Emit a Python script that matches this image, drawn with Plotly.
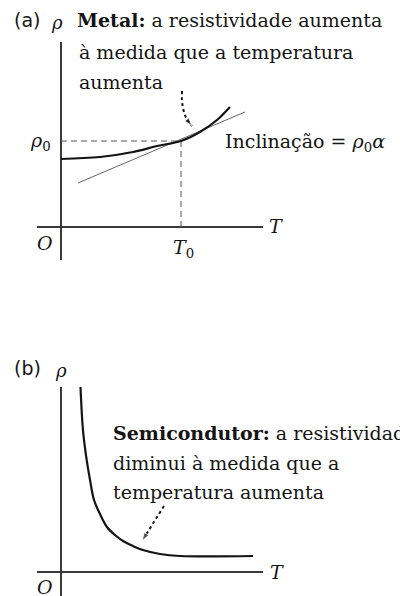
import plotly.graph_objects as go

# ---------------- data ----------------
# (a) metal: resistivity vs temperature (T0 = 1, rho0 = 1)
T0 = 1.0
RHO0 = 1.0
metal_T = [0.0, 0.325, 0.6, 0.8, 1.0, 1.158, 1.3, 1.408]
metal_rho = [0.791, 0.814, 0.872, 0.942, 1.0, 1.105, 1.244, 1.395]

# tangent at (T0, rho0), slope rho0*alpha
tangent_T = [0.142, 1.533]
tangent_rho = [0.512, 1.337]

# curved dotted pointer towards the tangent point
arrow_a_T = [1.008, 1.008, 1.017, 1.033, 1.058, 1.092]
arrow_a_rho = [1.581, 1.477, 1.384, 1.302, 1.233, 1.174]

# (b) semiconductor: resistivity vs temperature
semi_T = [0.1625, 0.183, 0.208, 0.242, 0.275, 0.325, 0.383, 0.45, 0.517,
          0.6, 0.683, 0.825, 0.992, 1.6]
semi_rho = [2.151, 1.651, 1.36, 1.07, 0.837, 0.674, 0.523, 0.43, 0.36,
            0.302, 0.256, 0.209, 0.186, 0.186]

arrow_b_T = [0.858, 0.675]
arrow_b_rho = [0.767, 0.36]

# ---------------- styling ----------------
W, H = 400, 596
INK = "#141414"
AXIS = "#3a3a3a"
SERIF = "DejaVu Serif"
SANS = "DejaVu Sans"
TXT = 19


def px(x):
    return x / W


def py(y):
    return 1 - y / H


fig = go.Figure()

# panel (a)
fig.add_trace(go.Scatter(x=[0, T0], y=[RHO0, RHO0], mode="lines",
                         line=dict(color="#555", width=1, dash="6px,4px"),
                         xaxis="x", yaxis="y", hoverinfo="skip"))
fig.add_trace(go.Scatter(x=[T0, T0], y=[RHO0, 0], mode="lines",
                         line=dict(color="#555", width=1, dash="6px,4px"),
                         xaxis="x", yaxis="y", hoverinfo="skip"))
fig.add_trace(go.Scatter(x=tangent_T, y=tangent_rho, mode="lines",
                         line=dict(color="#666", width=1),
                         xaxis="x", yaxis="y", hoverinfo="skip"))
fig.add_trace(go.Scatter(x=metal_T, y=metal_rho, mode="lines",
                         line=dict(color=INK, width=2.2, shape="spline"),
                         xaxis="x", yaxis="y"))
fig.add_trace(go.Scatter(x=arrow_a_T, y=arrow_a_rho, mode="lines+markers",
                         line=dict(color=INK, width=2, dash="dot", shape="spline"),
                         marker=dict(symbol="arrow", angleref="previous",
                                     size=[0] * (len(arrow_a_T) - 1) + [9],
                                     color=INK),
                         xaxis="x", yaxis="y", hoverinfo="skip"))

# panel (b)
fig.add_trace(go.Scatter(x=semi_T, y=semi_rho, mode="lines",
                         line=dict(color=INK, width=2.2, shape="spline"),
                         xaxis="x2", yaxis="y2"))
fig.add_trace(go.Scatter(x=arrow_b_T, y=arrow_b_rho, mode="lines+markers",
                         line=dict(color=INK, width=2, dash="dot"),
                         marker=dict(symbol="arrow", angleref="previous",
                                     size=[0, 9], color=INK),
                         xaxis="x2", yaxis="y2", hoverinfo="skip"))

axis_common = dict(showgrid=False, showticklabels=False, ticks="",
                   showline=False, zeroline=True, zerolinecolor=AXIS,
                   zerolinewidth=1.6, fixedrange=True)

fig.update_layout(
    width=W, height=H, autosize=False,
    margin=dict(l=0, r=0, t=0, b=0),
    paper_bgcolor="white", plot_bgcolor="white",
    showlegend=False,
    xaxis=dict(domain=[37 / W, 263 / W], range=[-0.2, 1.6833], **axis_common),
    yaxis=dict(domain=[py(260), py(42)], range=[-0.3837, 2.1512], **axis_common),
    xaxis2=dict(domain=[37 / W, 263 / W], range=[-0.2, 1.6833], **axis_common),
    yaxis2=dict(domain=[0, py(387)], range=[-0.279, 2.151], **axis_common),
)

ann = []


def text(x, y, s, size=TXT, family=SERIF, xanchor="left", color=INK, **kw):
    ann.append(dict(x=px(x), y=py(y), xref="paper", yref="paper", text=s,
                    showarrow=False, xanchor=xanchor, yanchor="middle",
                    font=dict(family=family, size=size, color=color), **kw))


# panel (a) labels
text(27, 20, "(a)", size=19, family=SANS, xanchor="center")
text(57, 22, "<i>ρ</i>", size=18, xanchor="center")
text(75, 20, "<b>Metal:</b> a resistividade aumenta")
text(77, 52, "à medida que a temperatura")
text(77, 82, "aumenta")
text(223, 142, "Inclinação = <i>ρ</i><sub>0</sub><i>α</i>")
text(40, 141, "<i>ρ</i><sub>0</sub>", size=19, xanchor="center")
text(183, 248, "<i>T</i><sub>0</sub>", size=19, xanchor="center")
text(45, 243, "<i>O</i>", size=19, xanchor="center")
text(276, 226, "<i>T</i>", size=19, xanchor="center")

# panel (b) labels
text(27, 368, "(b)", size=19, family=SANS, xanchor="center")
text(61, 370, "<i>ρ</i>", size=18, xanchor="center")
text(111, 433, "<b>Semicondutor:</b> a resistividade")
text(111, 463, "diminui à medida que a")
text(111, 492, "temperatura aumenta")
text(45, 587, "<i>O</i>", size=19, xanchor="center")
text(277, 572, "<i>T</i>", size=19, xanchor="center")

fig.update_layout(annotations=ann)

fig.write_html("out.html")
